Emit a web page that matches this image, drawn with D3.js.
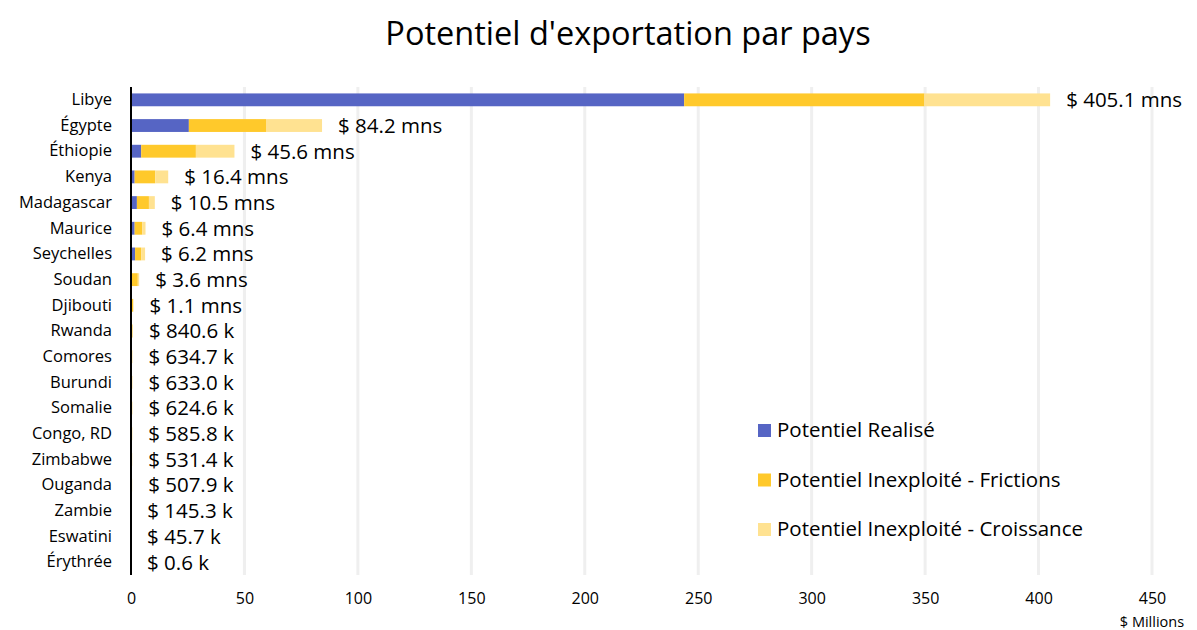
<!DOCTYPE html>
<html>
<head>
<meta charset="utf-8">
<script src="https://cdn.jsdelivr.net/npm/d3@7"></script>
<style>
  body { margin: 0; background: #fff; }
  svg text { font-family: "Open Sans", Lato, sans-serif; fill: #000; }
</style>
</head>
<body>
<script>
// categories (top to bottom)
var countries = ["Libye", "Égypte", "Éthiopie", "Kenya", "Madagascar", "Maurice", "Seychelles",
    "Soudan", "Djibouti", "Rwanda", "Comores", "Burundi", "Somalie", "Congo, RD",
    "Zimbabwe", "Ouganda", "Zambie", "Eswatini", "Érythrée"];

// series values, $ millions
var realise    = [243.8, 25.5, 4.5, 1.6, 2.6, 1.6, 1.8, 0.3, 0.1, 0.05, 0.03, 0.03, 0.03, 0.02, 0.02, 0.02, 0.01, 0.002, 0];
var frictions  = [105.9, 34.0, 24.1, 9.1, 5.3, 3.4, 2.7, 2.7, 0.8, 0.6, 0.4, 0.4, 0.4, 0.4, 0.35, 0.35, 0.1, 0.03, 0.0004];
var croissance = [55.4, 24.7, 17.0, 5.7, 2.6, 1.4, 1.7, 0.6, 0.2, 0.19, 0.2, 0.2, 0.19, 0.17, 0.16, 0.14, 0.035, 0.014, 0.0002];

// total labels
var totals = [405.1, 84.2, 45.6, 16.4, 10.5, 6.4, 6.2, 3.6, 1.1, 0.8406, 0.6347, 0.6330, 0.6246, 0.5858, 0.5314, 0.5079, 0.1453, 0.0457, 0.0006];

var seriesNames = ["Potentiel Realisé", "Potentiel Inexploité - Frictions", "Potentiel Inexploité - Croissance"];
var colors = ["#5665c4", "#ffc92b", "#ffe291"];
var xTicks = [0, 50, 100, 150, 200, 250, 300, 350, 400, 450];

var W = 1197, H = 630;
var margin = { top: 87, left: 131, right: 45, bottom: 55 };

var rows = countries.map(function(c, i) {
    return { country: c, r: realise[i], f: frictions[i], c2: croissance[i], total: totals[i] };
});

var stack = d3.stack().keys(["r", "f", "c2"]);
var layers = stack(rows);

var svg = d3.select("body").append("svg")
    .attr("width", W)
    .attr("height", H);

var x = d3.scaleLinear().domain([0, 450]).range([margin.left, W - margin.right]);
var y = d3.scaleBand().domain(countries).range([margin.top, H - margin.bottom]).paddingInner(0.5).paddingOuter(0.25);

// title
svg.append("text")
    .attr("x", 628)
    .attr("y", 45)
    .attr("text-anchor", "middle")
    .style("font-size", "32.5px")
    .text("Potentiel d'exportation par pays");

// gridlines
svg.append("g")
    .selectAll("line")
    .data(xTicks.slice(1))
    .enter()
    .append("line")
    .attr("x1", function(d) { return x(d); })
    .attr("x2", function(d) { return x(d); })
    .attr("y1", margin.top)
    .attr("y2", H - margin.bottom)
    .attr("stroke", "#efefef")
    .attr("stroke-width", 3);

// bars
svg.append("g")
    .selectAll("g")
    .data(layers)
    .enter()
    .append("g")
    .attr("fill", function(d, i) { return colors[i]; })
    .selectAll("rect")
    .data(function(d) { return d; })
    .enter()
    .append("rect")
    .attr("x", function(d) { return x(d[0]); })
    .attr("y", function(d) { return y(d.data.country); })
    .attr("width", function(d) { return Math.max(0, x(d[1]) - x(d[0])); })
    .attr("height", y.bandwidth());

// zero axis line
svg.append("line")
    .attr("x1", x(0)).attr("x2", x(0))
    .attr("y1", margin.top).attr("y2", H - margin.bottom)
    .attr("stroke", "#000")
    .attr("stroke-width", 2);

// category labels
var yAxis = svg.append("g")
    .attr("transform", "translate(" + (x(0) - 19) + ",0)")
    .call(d3.axisLeft(y).tickSize(0).tickPadding(0));
yAxis.select(".domain").remove();
yAxis.selectAll("text").style("font-size", "16.5px").style("font-family", "'Open Sans', sans-serif");

// value labels
function fmt(v) {
    if (v >= 1) return "$ " + v.toFixed(1) + " mns";
    return "$ " + (v * 1000).toFixed(1) + " k";
}
svg.append("g")
    .selectAll("text")
    .data(rows)
    .enter()
    .append("text")
    .attr("x", function(d) { return x(d.r + d.f + d.c2) + 16; })
    .attr("y", function(d) { return y(d.country) + y.bandwidth() / 2; })
    .attr("dy", "0.36em")
    .style("font-size", "20.5px")
    .text(function(d) { return fmt(d.total); });

// x axis
var xAxis = svg.append("g")
    .attr("transform", "translate(0," + (H - margin.bottom) + ")")
    .call(d3.axisBottom(x).tickValues(xTicks).tickSize(0).tickPadding(18));
xAxis.select(".domain").remove();
xAxis.selectAll("text").style("font-size", "16px").style("font-family", "'Open Sans', sans-serif");

svg.append("text")
    .attr("x", 1152)
    .attr("y", 627)
    .attr("text-anchor", "middle")
    .style("font-size", "14.5px")
    .text("$ Millions");

// legend
var legend = svg.append("g")
    .selectAll("g")
    .data(seriesNames)
    .enter()
    .append("g")
    .attr("transform", function(d, i) { return "translate(758," + (430 + i * 49.5) + ")"; });
legend.append("rect")
    .attr("x", 0).attr("y", -6)
    .attr("width", 13).attr("height", 13)
    .attr("fill", function(d, i) { return colors[i]; });
legend.append("text")
    .attr("x", 19)
    .attr("dy", "0.36em")
    .style("font-size", "20.5px")
    .text(function(d) { return d; });
</script>
</body>
</html>
